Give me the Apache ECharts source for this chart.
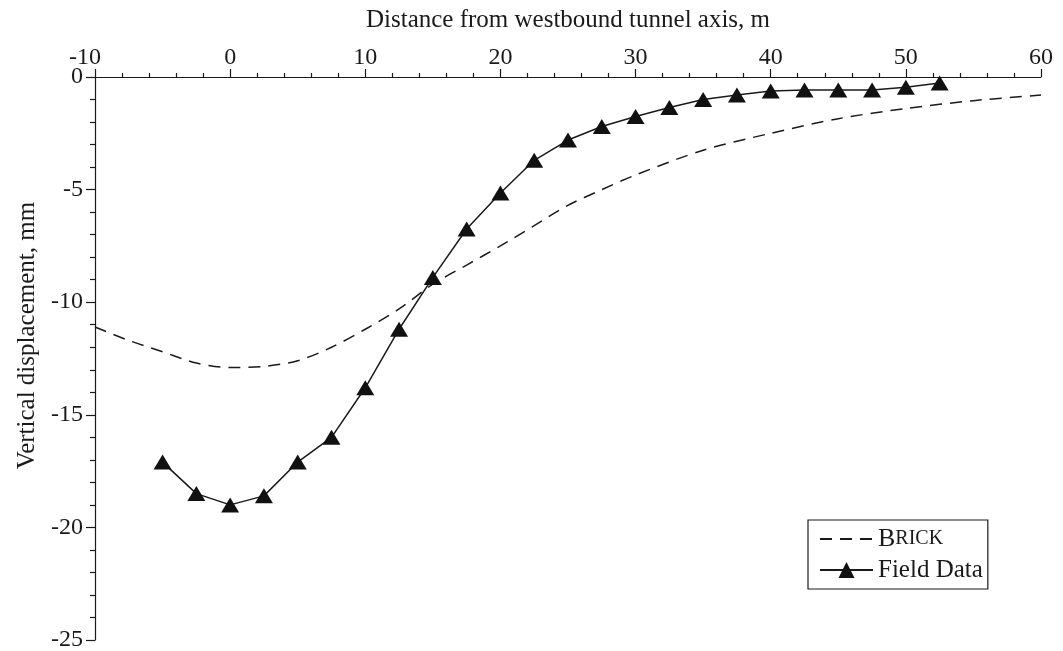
<!DOCTYPE html>
<html><head><meta charset="utf-8">
<script src="https://cdn.jsdelivr.net/npm/echarts@6/dist/echarts.min.js"></script>
<style>html,body{margin:0;padding:0;background:#fff}#c{width:1063px;height:651px}</style>
</head><body><div id="c"></div>
<script>
const fieldX = [-5, -2.5, 0, 2.5, 5, 7.5, 10, 12.5, 15, 17.5, 20, 22.5, 25, 27.5, 30, 32.5, 35, 37.5, 40, 42.5, 45, 47.5, 50, 52.5];
const fieldY = [-17.1, -18.5, -19.0, -18.6, -17.1, -16.0, -13.8, -11.2, -8.9, -6.75, -5.15, -3.7, -2.8, -2.2, -1.75, -1.35, -1.0, -0.8, -0.62, -0.58, -0.58, -0.58, -0.45, -0.27];
const brickX = [-10, -7.5, -5, -2.5, 0, 2.5, 5, 7.5, 10, 12.5, 15, 17.5, 20, 22.5, 25, 27.5, 30, 35, 40, 45, 50, 55, 60];
const brickY = [-11.1, -11.7, -12.2, -12.7, -12.9, -12.85, -12.6, -12.0, -11.2, -10.3, -9.2, -8.35, -7.5, -6.6, -5.7, -5.0, -4.35, -3.25, -2.5, -1.85, -1.4, -1.05, -0.8];
const xTicks = {min: -10, max: 60, interval: 10};
const yTicks = {min: -25, max: 0, interval: 5};
const seriesNames = ['BRICK', 'Field Data'];
const xTitle = 'Distance from westbound tunnel axis, m';
const yTitle = 'Vertical displacement, mm';

const font = '"Liberation Serif", "Times New Roman", serif';
const ink = '#1a1a1a';
const chart = echarts.init(document.getElementById('c'), null, {renderer: 'canvas'});
chart.setOption({
  animation: false,
  backgroundColor: '#fff',
  grid: {left: 95, right: 22, top: 77, bottom: 11, containLabel: false, outerBoundsMode: 'none'},
  legend: {
    left: 808, top: 520, orient: 'vertical',
    data: seriesNames,
    borderColor: ink, borderWidth: 1.2, backgroundColor: '#fff', borderRadius: 0,
    padding: [5, 5, 5, 11], itemGap: 3, itemWidth: 53, itemHeight: 20,
    textStyle: {fontFamily: font, fontSize: 25, lineHeight: 28, color: ink,
      rich: {a: {fontFamily: font, fontSize: 26, lineHeight: 28, color: ink}, b: {fontFamily: font, fontSize: 20, lineHeight: 28, color: ink}}},
    formatter: n => n === 'BRICK' ? '{a|B}{b|RICK}' : n
  },
  xAxis: {
    type: 'value', position: 'top', min: xTicks.min, max: xTicks.max, interval: xTicks.interval,
    name: xTitle, nameLocation: 'middle', nameGap: 44,
    nameTextStyle: {fontFamily: font, fontSize: 25, color: ink},
    axisLine: {onZero: false, lineStyle: {color: ink, width: 1.2}},
    axisTick: {inside: false, length: 8, lineStyle: {color: ink, width: 1.2}},
    minorTick: {show: true, splitNumber: 5, length: 4, lineStyle: {color: ink, width: 1.2}},
    axisLabel: {fontFamily: font, fontSize: 24, color: ink, margin: 7,
      formatter: v => v < 0 ? '{n|' + v + '}' : String(v),
      rich: {n: {fontFamily: font, fontSize: 24, color: ink, padding: [0, 20, 0, 0]}}},
    splitLine: {show: false}
  },
  yAxis: {
    type: 'value', min: yTicks.min, max: yTicks.max, interval: yTicks.interval,
    name: yTitle, nameLocation: 'middle', nameGap: 55, nameRotate: 90,
    nameTextStyle: {fontFamily: font, fontSize: 25, color: ink, padding: [0, 0, 0, 46]},
    axisLine: {onZero: false, lineStyle: {color: ink, width: 1.2}},
    axisTick: {inside: false, length: 9, lineStyle: {color: ink, width: 1.2}},
    minorTick: {show: true, splitNumber: 5, length: 5, lineStyle: {color: ink, width: 1.2}},
    axisLabel: {fontFamily: font, fontSize: 24, color: ink, margin: 12},
    splitLine: {show: false}
  },
  series: [
    {
      name: seriesNames[0], type: 'line', smooth: 0.3, showSymbol: false, symbol: 'none',
      data: brickX.map((x, i) => [x, brickY[i]]),
      lineStyle: {color: ink, width: 1.5, type: [12, 8]},
      itemStyle: {color: 'rgba(0,0,0,0)', borderWidth: 0}
    },
    {
      name: seriesNames[1], type: 'line', symbol: 'triangle', symbolSize: [18, 15],
      data: fieldX.map((x, i) => [x, fieldY[i]]),
      lineStyle: {color: ink, width: 1.5},
      itemStyle: {color: '#111'}
    }
  ]
});
</script></body></html>
